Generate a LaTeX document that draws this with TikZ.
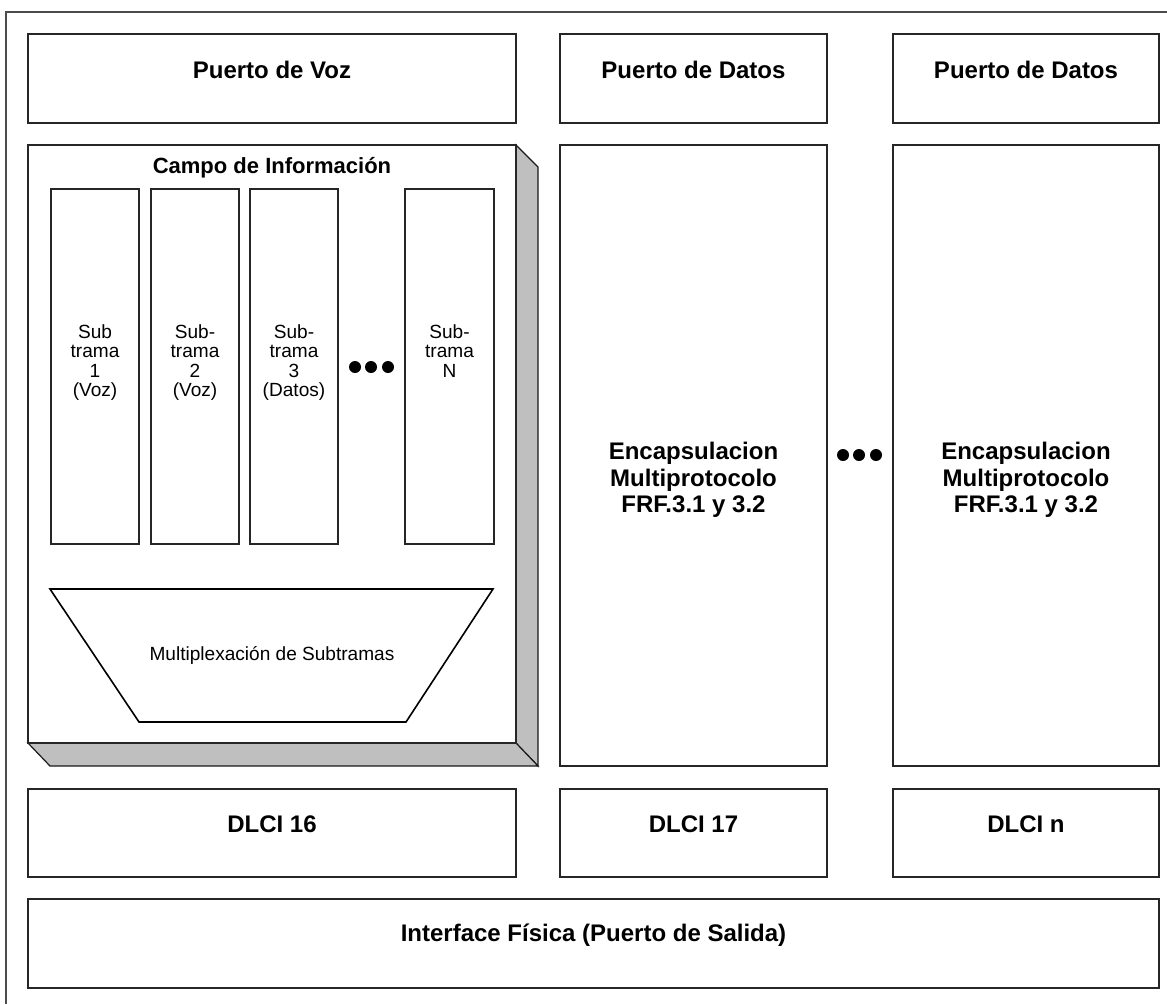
\documentclass[tikz,border=0pt]{standalone}
\usepackage{fontspec}
\setmainfont{Liberation Sans}
\usetikzlibrary{fit}
\begin{document}
\begin{tikzpicture}[x=0.75pt,y=-0.75pt,
  frame/.style={draw=black!85, line width=0.9pt, fill=white, inner sep=0pt},
  lbl/.style={font=\bfseries\fontsize{18}{19.9}\selectfont, align=center, inner sep=0pt},
  small/.style={font=\fontsize{14.3}{14.6}\selectfont, align=center, inner sep=0pt},
  dot/.style={circle, fill=black, inner sep=0pt, minimum size=9pt},
  side/.style={fill=black!25, draw=black!90, line width=0.9pt, line join=miter}]
\useasboundingbox (0,0) rectangle (1167,1004);
% outer frame, open towards the lower right
\draw[black!70, line width=1pt] (1167,12) -- (6,12) -- (6,1004);

% ports
\node[frame, lbl, fit={(28,34)(516,123)}] (voz) {Puerto de Voz};
\node[frame, lbl, fit={(560,34)(827,123)}] (datos1) {Puerto de Datos};
\node[frame, lbl, fit={(893,34)(1159,123)}] (datos2) {Puerto de Datos};

% information field as a raised block
\path[side] (516,145) -- (538,167) -- (538,766) -- (516,743) -- cycle;
\path[side] (28,743) -- (516,743) -- (538,766) -- (50,766) -- cycle;
\node[frame, fit={(28,145)(516,743)}] (campo) {};
\node[lbl, font=\bfseries\fontsize{16.5}{18}\selectfont] (campot) at (272,167.5) {Campo de Información};

% subframes
\node[frame, fit={(51,189)(139,544)}] (s1) {};
\node[frame, fit={(151,189)(239,544)}] (s2) {};
\node[frame, fit={(250,189)(338,544)}] (s3) {};
\node[frame, fit={(405,189)(494,544)}] (sn) {};
\node[small, anchor=north] (s1t) at (95,324) {Sub\\trama\\1\\(Voz)};
\node[small, anchor=north] (s2t) at (195,324) {Sub-\\trama\\2\\(Voz)};
\node[small, anchor=north] (s3t) at (294,324) {Sub-\\trama\\3\\(Datos)};
\node[small, anchor=north] (snt) at (449.5,324) {Sub-\\trama\\N};
\node[dot] (d1) at (355,367) {};
\node[dot] (d2) at (371,367) {};
\node[dot] (d3) at (388,367) {};

% multiplexer
\draw[black, line width=1.2pt, fill=white] (50,589) -- (493,589) -- (406,722) -- (139,722) -- cycle;
\node[small] (mux) at (272,655) {Multiplexación de Subtramas};

% encapsulation columns
\node[frame, fit={(560,145)(827,766)}] (enc1) {};
\node[frame, fit={(893,145)(1159,766)}] (enc2) {};
\node[lbl] (enc1t) at (693.5,480) {Encapsulacion\\Multiprotocolo\\FRF.3.1 y 3.2};
\node[lbl] (enc2t) at (1026,480) {Encapsulacion\\Multiprotocolo\\FRF.3.1 y 3.2};
\node[dot] (e1) at (843,455) {};
\node[dot] (e2) at (859,455) {};
\node[dot] (e3) at (876,455) {};

% DLCIs
\node[frame, lbl, fit={(28,789)(516,877)}] (dlci16) {DLCI 16};
\node[frame, lbl, fit={(560,789)(827,877)}] (dlci17) {DLCI 17};
\node[frame, lbl, fit={(893,789)(1159,877)}] (dlcin) {DLCI n};

% physical interface
\node[frame, lbl, fit={(28,899)(1159,988)}] (phy) {Interface Física (Puerto de Salida)};
\end{tikzpicture}
\end{document}
